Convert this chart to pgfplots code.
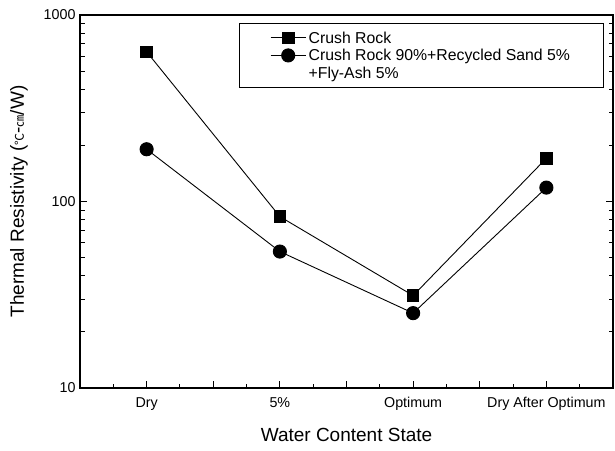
\documentclass[border=0pt]{standalone}
\usepackage{fontspec}
\setmainfont{Liberation Sans}
\newfontfamily\cjk{Noto Sans CJK KR}
\usepackage{pgfplots}
\pgfplotsset{compat=1.18}
\begin{document}
\begin{tikzpicture}
\useasboundingbox (-80pt,-62pt) rectangle (535pt,388pt);
\begin{axis}[
  at={(0,0)}, anchor=south west,
  scale only axis, width=533pt, height=373pt,
  xmin=-0.5, xmax=3.5,
  ymode=log, ymin=10, ymax=1000,
  xtick={0,0.5,...,3},
  xticklabels={Dry,,5\%,,Optimum,,Dry After Optimum},
  minor xtick={-0.25,0.25,...,3.25},
  ytick={10,100,1000},
  yticklabels={10,100,1000},
  xtick pos=bottom, ytick pos=both,
  tick align=inside,
  major tick length=7pt, minor tick length=4.5pt,
  every tick/.style={black, line width=1pt},
  axis line style={line width=1.6pt},
  tick label style={font=\fontsize{14.3}{16}\selectfont},
  xticklabel style={yshift=-6pt},
  yticklabel style={xshift=-1pt},
  label style={font=\fontsize{19}{22}\selectfont},
  xlabel={Water Content State},
  ylabel={Thermal Resistivity ({\cjk\fontsize{12}{13}\selectfont ℃}-{\cjk\fontsize{12}{13}\selectfont ㎝}/W)},
  xlabel style={yshift=-11pt},
  ylabel style={yshift=9pt},
  legend style={
    at={(0.983,0.979)}, anchor=north east,
    draw=black, line width=1pt, fill=white,
    inner xsep=31pt, inner ysep=8pt,
    row sep=4.5pt,
    font=\fontsize{15.8}{18}\selectfont,
    nodes={inner xsep=2.5pt, inner ysep=0pt, text height=12pt, text depth=1pt},
    cells={anchor=west},
  },
  legend image code/.code={%
    \draw[mark repeat=2,mark phase=2] plot coordinates {(0pt,0pt) (17.5pt,0pt) (35pt,0pt)};},
]
\addplot[black, line width=0.9pt, mark=square*, mark size=5.8pt, mark options={solid}]
  coordinates {(0,635) (1,83.0) (2,31.3) (3,170.6)};
\addlegendentry{Crush Rock}
\addplot[black, line width=0.9pt, mark=*, mark size=6.6pt, mark options={solid}]
  coordinates {(0,190.6) (1,53.9) (2,25.2) (3,118.7)};
\addlegendentry{Crush Rock 90\%+Recycled Sand 5\%}
\addlegendimage{empty legend}
\addlegendentry{+Fly-Ash 5\%}
\end{axis}
\end{tikzpicture}
\end{document}
